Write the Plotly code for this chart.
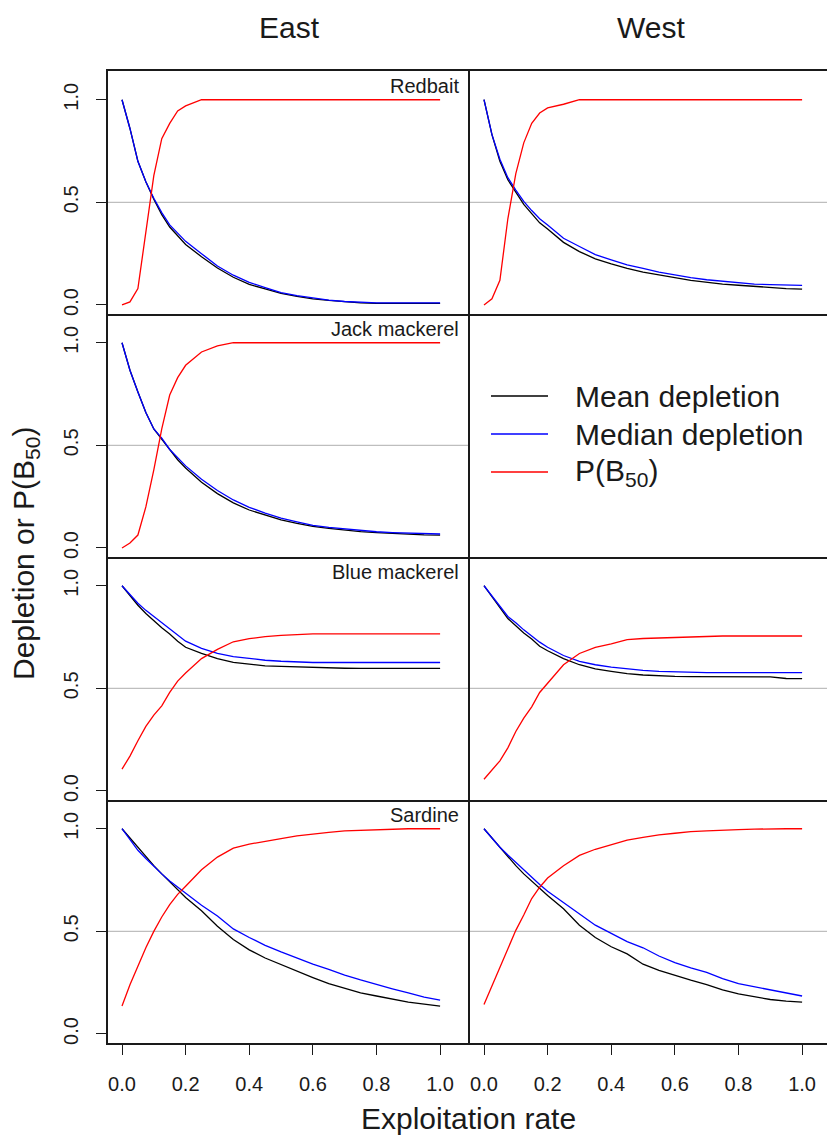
import plotly.graph_objects as go

# ---------------- data ----------------
x_rate = [0, 0.025, 0.05, 0.075, 0.1, 0.125, 0.15, 0.175, 0.2, 0.25, 0.3, 0.35, 0.4,
          0.45, 0.5, 0.55, 0.6, 0.65, 0.7, 0.75, 0.8, 0.85, 0.9, 0.95, 1.0]

regions = ["East", "West"]
species = ["Redbait", "Jack mackerel", "Blue mackerel", "Sardine"]
series_names = ["Mean depletion", "Median depletion", "P(B<sub>50</sub>)"]
series_colors = ["#000000", "#0000ff", "#ff0000"]

x_tickvals = [0, 0.2, 0.4, 0.6, 0.8, 1.0]
x_ticktext = ["0.0", "0.2", "0.4", "0.6", "0.8", "1.0"]
y_tickvals = [0, 0.5, 1.0]
y_ticktext = ["0.0", "0.5", "1.0"]
reference_level = 0.5

# Redbait
rb_e_mean = [1.0, 0.86, 0.70, 0.60, 0.515, 0.44, 0.38, 0.335, 0.295, 0.235, 0.18, 0.135, 0.10,
             0.078, 0.056, 0.042, 0.03, 0.022, 0.015, 0.01, 0.008, 0.008, 0.008, 0.008, 0.008]
rb_e_median = [1.0, 0.86, 0.70, 0.60, 0.52, 0.45, 0.39, 0.35, 0.31, 0.25, 0.19, 0.145, 0.11,
               0.085, 0.06, 0.045, 0.033, 0.024, 0.017, 0.012, 0.01, 0.01, 0.01, 0.01, 0.01]
rb_e_p = [0.0, 0.015, 0.08, 0.36, 0.63, 0.81, 0.885, 0.945, 0.97, 1.0, 1.0, 1.0, 1.0,
          1.0, 1.0, 1.0, 1.0, 1.0, 1.0, 1.0, 1.0, 1.0, 1.0, 1.0, 1.0]
rb_w_mean = [1.0, 0.83, 0.70, 0.61, 0.55, 0.49, 0.445, 0.40, 0.37, 0.305, 0.26, 0.225, 0.20,
             0.178, 0.16, 0.145, 0.133, 0.12, 0.11, 0.102, 0.096, 0.09, 0.085, 0.08, 0.077]
rb_w_median = [1.0, 0.83, 0.71, 0.62, 0.56, 0.505, 0.46, 0.42, 0.39, 0.325, 0.285, 0.245, 0.22,
               0.195, 0.178, 0.16, 0.147, 0.133, 0.123, 0.115, 0.108, 0.102, 0.099, 0.097, 0.095]
rb_w_p = [0.0, 0.03, 0.12, 0.42, 0.64, 0.79, 0.885, 0.935, 0.96, 0.978, 1.0, 1.0, 1.0,
          1.0, 1.0, 1.0, 1.0, 1.0, 1.0, 1.0, 1.0, 1.0, 1.0, 1.0, 1.0]

# Jack mackerel (East only)
jm_e_mean = [1.0, 0.866, 0.76, 0.66, 0.58, 0.53, 0.475, 0.43, 0.39, 0.32, 0.265, 0.22, 0.185,
             0.16, 0.137, 0.12, 0.105, 0.095, 0.087, 0.08, 0.075, 0.07, 0.067, 0.064, 0.063]
jm_e_median = [1.0, 0.866, 0.76, 0.66, 0.58, 0.535, 0.48, 0.44, 0.40, 0.335, 0.28, 0.234, 0.198,
               0.17, 0.145, 0.127, 0.11, 0.10, 0.092, 0.085, 0.079, 0.075, 0.072, 0.07, 0.068]
jm_e_p = [0.0, 0.024, 0.063, 0.2, 0.38, 0.58, 0.745, 0.83, 0.89, 0.955, 0.985, 1.0, 1.0,
          1.0, 1.0, 1.0, 1.0, 1.0, 1.0, 1.0, 1.0, 1.0, 1.0, 1.0, 1.0]

# Blue mackerel
bm_e_mean = [1.0, 0.95, 0.905, 0.865, 0.83, 0.795, 0.765, 0.73, 0.70, 0.67, 0.645, 0.627, 0.618,
             0.61, 0.607, 0.604, 0.602, 0.6, 0.598, 0.597, 0.597, 0.597, 0.597, 0.597, 0.597]
bm_e_median = [1.0, 0.955, 0.915, 0.88, 0.85, 0.82, 0.79, 0.76, 0.73, 0.695, 0.67, 0.655, 0.645,
               0.637, 0.632, 0.628, 0.626, 0.626, 0.626, 0.626, 0.626, 0.626, 0.626, 0.626, 0.626]
bm_e_p = [0.106, 0.17, 0.245, 0.315, 0.37, 0.415, 0.48, 0.535, 0.575, 0.645, 0.69, 0.727, 0.742,
          0.752, 0.758, 0.762, 0.765, 0.765, 0.765, 0.765, 0.765, 0.765, 0.765, 0.765, 0.765]
bm_w_mean = [1.0, 0.945, 0.89, 0.84, 0.805, 0.77, 0.74, 0.705, 0.683, 0.645, 0.615, 0.595, 0.583,
             0.572, 0.565, 0.56, 0.558, 0.557, 0.557, 0.556, 0.556, 0.556, 0.556, 0.548, 0.547]
bm_w_median = [1.0, 0.95, 0.895, 0.85, 0.82, 0.785, 0.755, 0.725, 0.70, 0.66, 0.632, 0.615, 0.603,
               0.595, 0.588, 0.583, 0.58, 0.577, 0.577, 0.577, 0.577, 0.577, 0.577, 0.577, 0.577]
bm_w_p = [0.057, 0.10, 0.147, 0.21, 0.29, 0.355, 0.41, 0.48, 0.525, 0.615, 0.67, 0.70, 0.717,
          0.737, 0.743, 0.746, 0.749, 0.752, 0.755, 0.755, 0.755, 0.755, 0.755, 0.755, 0.755]

# Sardine
sd_e_mean = [1.0, 0.955, 0.905, 0.86, 0.82, 0.78, 0.74, 0.705, 0.665, 0.60, 0.525, 0.46, 0.41,
             0.37, 0.338, 0.305, 0.275, 0.245, 0.222, 0.20, 0.185, 0.17, 0.155, 0.145, 0.136]
sd_e_median = [1.0, 0.95, 0.895, 0.855, 0.815, 0.78, 0.745, 0.715, 0.685, 0.627, 0.575, 0.512, 0.47,
               0.432, 0.40, 0.37, 0.34, 0.315, 0.287, 0.263, 0.24, 0.22, 0.20, 0.18, 0.165]
sd_e_p = [0.136, 0.24, 0.33, 0.42, 0.5, 0.57, 0.63, 0.68, 0.72, 0.80, 0.862, 0.905, 0.925,
          0.94, 0.952, 0.965, 0.975, 0.982, 0.99, 0.993, 0.995, 1.0, 1.0, 1.0, 1.0]
sd_w_mean = [1.0, 0.955, 0.905, 0.86, 0.82, 0.78, 0.745, 0.71, 0.675, 0.61, 0.53, 0.47, 0.425,
             0.39, 0.34, 0.31, 0.285, 0.262, 0.24, 0.215, 0.195, 0.18, 0.168, 0.16, 0.155]
sd_w_median = [1.0, 0.955, 0.91, 0.872, 0.835, 0.80, 0.765, 0.728, 0.695, 0.64, 0.585, 0.53, 0.49,
               0.45, 0.42, 0.38, 0.348, 0.322, 0.30, 0.27, 0.245, 0.23, 0.215, 0.198, 0.185]
sd_w_p = [0.144, 0.235, 0.325, 0.42, 0.505, 0.58, 0.66, 0.715, 0.76, 0.82, 0.87, 0.90, 0.923,
          0.945, 0.958, 0.97, 0.978, 0.986, 0.99, 0.994, 0.996, 0.998, 1.0, 1.0, 1.0]

panel_data = {
    ("Redbait", "East"): [rb_e_mean, rb_e_median, rb_e_p],
    ("Redbait", "West"): [rb_w_mean, rb_w_median, rb_w_p],
    ("Jack mackerel", "East"): [jm_e_mean, jm_e_median, jm_e_p],
    ("Blue mackerel", "East"): [bm_e_mean, bm_e_median, bm_e_p],
    ("Blue mackerel", "West"): [bm_w_mean, bm_w_median, bm_w_p],
    ("Sardine", "East"): [sd_e_mean, sd_e_median, sd_e_p],
    ("Sardine", "West"): [sd_w_mean, sd_w_median, sd_w_p],
}

# ---------------- layout ----------------
W, H = 827, 1140
ML, MR, MT, MB = 108, 0, 71, 97
plot_w = W - ML - MR
plot_h = H - MT - MB
row_h = plot_h / 4
left_w = 362
split = left_w / plot_w
px_per_x = 318.1
x_lo = -0.044
x_range_left = [x_lo, x_lo + left_w / px_per_x]
x_range_right = [x_lo, x_lo + (plot_w - left_w) / px_per_x]
y_range = [-0.044, 1.14]

FONT = "Liberation Sans, Arial, Helvetica, sans-serif"
TXT = "#1a1a1a"
LINE = "#1a1a1a"

fig = go.Figure()
layout = dict(
    width=W, height=H,
    margin=dict(l=ML, r=MR, t=MT, b=MB, autoexpand=False),
    paper_bgcolor="white", plot_bgcolor="white",
    showlegend=False,
    font=dict(family=FONT, color=TXT),
)
annotations = []
shapes = []

nrows = len(species)
for r, sp in enumerate(species):
    y0 = 1 - (r + 1) / nrows
    y1 = 1 - r / nrows
    for c, reg in enumerate(regions):
        idx = r * 2 + c + 1
        xn = "x" if idx == 1 else f"x{idx}"
        yn = "y" if idx == 1 else f"y{idx}"
        xkey = "xaxis" if idx == 1 else f"xaxis{idx}"
        ykey = "yaxis" if idx == 1 else f"yaxis{idx}"
        bottom = (r == nrows - 1)
        # only the top row draws its upper edge; lower rows share the edge above
        xa = dict(domain=[0, split] if c == 0 else [split, 1],
                  range=x_range_left if c == 0 else x_range_right,
                  anchor=yn, showline=True, mirror=(r == 0), linecolor=LINE, linewidth=1.5,
                  showgrid=False, zeroline=False, fixedrange=True)
        if bottom:
            xa.update(ticks="outside", ticklen=10, tickwidth=1.3, tickcolor=LINE,
                      tickvals=x_tickvals, ticktext=x_ticktext,
                      tickfont=dict(size=20, color=TXT, family=FONT),
                      ticklabelstandoff=12)
        else:
            xa.update(showticklabels=False, ticks="")
        ya = dict(domain=[y0, y1], range=y_range, anchor=xn,
                  showline=True, mirror=False, linecolor=LINE, linewidth=1.5,
                  showgrid=False, zeroline=False, fixedrange=True)
        if c == 0:
            ya.update(ticks="outside", ticklen=10, tickwidth=1.3, tickcolor=LINE,
                      tickvals=y_tickvals, ticktext=y_ticktext, tickangle=-90,
                      tickfont=dict(size=20, color=TXT, family=FONT),
                      ticklabelstandoff=10)
        else:
            ya.update(showticklabels=False, ticks="")
        layout[xkey] = xa
        layout[ykey] = ya

        key = (sp, reg)
        if key in panel_data:
            shapes.append(dict(type="line", xref=f"{xn} domain", yref=yn,
                               x0=0, x1=1, y0=reference_level, y1=reference_level,
                               line=dict(color="#bebebe", width=1.3), layer="below"))
            for name, col, vals in zip(series_names, series_colors, panel_data[key]):
                fig.add_trace(go.Scatter(x=x_rate, y=vals, mode="lines", name=name,
                                         xaxis=xn, yaxis=yn,
                                         line=dict(color=col, width=1.3)))
            if c == 0:
                annotations.append(dict(text=sp, xref=f"{xn} domain", yref=f"{yn} domain",
                                        x=1 - 9 / left_w, y=1 - 15 / row_h,
                                        xanchor="right", yanchor="middle", showarrow=False,
                                        font=dict(size=20, color=TXT, family=FONT)))
        else:
            # empty panel that holds the legend: an invisible trace makes the subplot exist
            fig.add_trace(go.Scatter(x=[None], y=[None], mode="lines", xaxis=xn, yaxis=yn,
                                     showlegend=False, hoverinfo="skip"))
            row_pos = [1 - (396 - 314) / row_h, 1 - (434 - 314) / row_h, 1 - (472 - 314) / row_h]
            for name, col, yy in zip(series_names, series_colors, row_pos):
                shapes.append(dict(type="line", xref=f"{xn} domain", yref=f"{yn} domain",
                                   x0=21 / 357, x1=78 / 357, y0=yy, y1=yy,
                                   line=dict(color=col, width=1.5)))
                annotations.append(dict(text=name, xref=f"{xn} domain", yref=f"{yn} domain",
                                        x=103 / 357, y=yy, xanchor="left", yanchor="middle",
                                        showarrow=False,
                                        font=dict(size=30, color=TXT, family=FONT)))

# column titles
for c, reg in enumerate(regions):
    cx = split / 2 if c == 0 else split + left_w / plot_w / 2
    annotations.append(dict(text=reg, xref="paper", yref="paper", x=cx, y=1 + 43 / plot_h,
                            xanchor="center", yanchor="middle", showarrow=False,
                            font=dict(size=30, color=TXT, family=FONT)))

# axis titles
annotations.append(dict(text="Exploitation rate", xref="paper", yref="paper",
                        x=(468 - ML) / plot_w, y=-(1118 - (H - MB)) / plot_h,
                        xanchor="center", yanchor="middle",
                        showarrow=False, font=dict(size=30, color=TXT, family=FONT)))
annotations.append(dict(text="Depletion or P(B<sub>50</sub>)", xref="paper", yref="paper",
                        x=(25 - ML) / plot_w, y=((H - MB) - 554) / plot_h, xanchor="center",
                        yanchor="middle", textangle=-90, showarrow=False,
                        font=dict(size=30, color=TXT, family=FONT)))

layout["annotations"] = annotations
layout["shapes"] = shapes
fig.update_layout(**layout)
fig.write_html("out.html", config={"displayModeBar": False},
               post_script="document.body.style.margin='0';document.body.style.overflow='hidden';")
